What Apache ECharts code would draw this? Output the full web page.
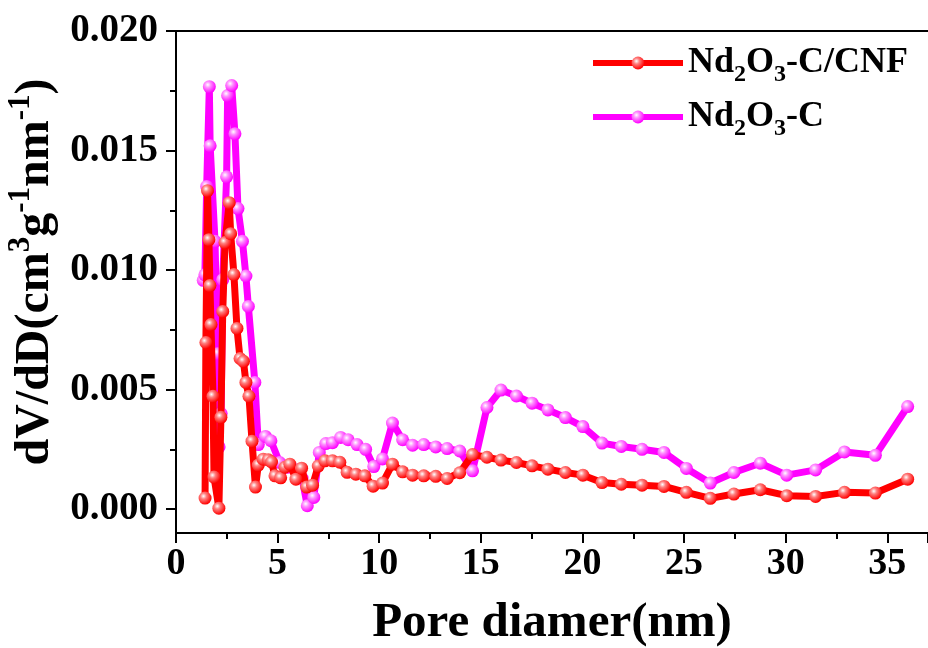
<!DOCTYPE html>
<html>
<head>
<meta charset="utf-8">
<script src="https://cdn.jsdelivr.net/npm/echarts@6/dist/echarts.min.js"></script>
<style>
  html, body { margin: 0; padding: 0; background: #fff; overflow: hidden; }
  #chart { width: 928px; height: 648px; }
</style>
</head>
<body>
<div id="chart"></div>
<script>
// Pore size distribution (BJH dV/dD) for the two samples
const nameCNF = 'Nd2O3-C/CNF';
const nameC = 'Nd2O3-C';

const xCNF = [1.43, 1.47, 1.55, 1.62, 1.67, 1.72, 1.82, 1.87, 2.11, 2.21, 2.30, 2.41, 2.62, 2.69, 2.85, 3.00,
  3.15, 3.32, 3.44, 3.59, 3.74, 3.91, 4.05, 4.29, 4.54, 4.70, 4.87, 5.15, 5.36, 5.60, 5.90, 6.18, 6.43, 6.72,
  7.00, 7.33, 7.70, 8.06, 8.42, 8.85, 9.29, 9.70, 10.16, 10.65, 11.15, 11.64, 12.19, 12.78, 13.34, 13.96,
  14.59, 15.30, 15.99, 16.75, 17.52, 18.30, 19.16, 20.02, 20.96, 21.91, 22.93, 24.01, 25.11, 26.29, 27.45,
  28.75, 30.05, 31.47, 32.89, 34.41, 36.00];
const yCNF = [0.00046, 0.00697, 0.01332, 0.01127, 0.00935, 0.00772, 0.00472, 0.00134, 0.00004, 0.00384, 0.00827,
  0.01115, 0.01282, 0.01152, 0.00981, 0.00756, 0.00630, 0.00618, 0.00530, 0.00472, 0.00284, 0.00092, 0.00184,
  0.00209, 0.00206, 0.00197, 0.00139, 0.00131, 0.00175, 0.00188, 0.00125, 0.00171, 0.00092, 0.00100, 0.00180,
  0.00202, 0.00202, 0.00196, 0.00154, 0.00146, 0.00139, 0.00096, 0.00109, 0.00188, 0.00156, 0.00142, 0.00139,
  0.00137, 0.00128, 0.00152, 0.00228, 0.00217, 0.00205, 0.00195, 0.00181, 0.00167, 0.00153, 0.00142, 0.00111,
  0.00104, 0.00100, 0.00095, 0.00070, 0.00045, 0.00063, 0.00081, 0.00056, 0.00053, 0.00070, 0.00067, 0.00125];

const xC = [1.34, 1.42, 1.51, 1.64, 1.68, 1.92, 2.04, 2.12, 2.22, 2.30, 2.49, 2.54, 2.74, 2.90, 3.05, 3.27, 3.44,
  3.56, 3.88, 4.05, 4.40, 4.67, 5.10, 5.50, 5.90, 6.20, 6.46, 6.78, 7.05, 7.37, 7.70, 8.10, 8.47, 8.91, 9.33,
  9.73, 10.16, 10.65, 11.15, 11.64, 12.19, 12.78, 13.34, 13.96, 14.59, 15.30, 15.99, 16.75, 17.52, 18.30,
  19.16, 20.02, 20.96, 21.91, 22.93, 24.01, 25.11, 26.29, 27.45, 28.75, 30.05, 31.47, 32.89, 34.41, 36.00];
const yC = [0.00957, 0.00980, 0.01350, 0.01767, 0.01520, 0.01120, 0.00650, 0.00260, 0.00400, 0.00960, 0.01390,
  0.01730, 0.01772, 0.01570, 0.01257, 0.01120, 0.00975, 0.00848, 0.00530, 0.00270, 0.00304, 0.00286, 0.00195,
  0.00175, 0.00165, 0.00130, 0.00014, 0.00049, 0.00237, 0.00274, 0.00278, 0.00300, 0.00290, 0.00270, 0.00250,
  0.00178, 0.00210, 0.00360, 0.00290, 0.00267, 0.00270, 0.00260, 0.00253, 0.00243, 0.00160, 0.00425, 0.00498,
  0.00473, 0.00443, 0.00415, 0.00383, 0.00345, 0.00276, 0.00262, 0.00250, 0.00237, 0.00170, 0.00109, 0.00153,
  0.00192, 0.00142, 0.00164, 0.00239, 0.00225, 0.00429];

const yMajor = [0, 0.005, 0.010, 0.015, 0.020];
const yMinor = [0.0025, 0.0075, 0.0125, 0.0175];

const FONT = "'Liberation Serif', 'Times New Roman', serif";

function ball(main, light) {
  return {
    type: 'radial', x: 0.38, y: 0.35, r: 0.65,
    colorStops: [
      { offset: 0, color: '#ffffff' },
      { offset: 0.35, color: light },
      { offset: 1, color: main }
    ]
  };
}

const pairs = (xs, ys) => xs.map((x, i) => [x, ys[i]]);

const legendRich = {
  b: { fontSize: 36, fontWeight: 'bold', fontFamily: FONT, color: '#000', lineHeight: 36, verticalAlign: 'top' },
  s: { fontSize: 24, fontWeight: 'bold', fontFamily: FONT, color: '#000', lineHeight: 24, verticalAlign: 'top', padding: [18, 0, 0, 0] }
};

const chart = echarts.init(document.getElementById('chart'), null, { renderer: 'canvas' });

chart.setOption({
  backgroundColor: '#ffffff',
  animation: false,
  grid: { left: 176, right: 0, top: 31, bottom: 115, containLabel: false, outerBoundsMode: 'none' },
  legend: {
    orient: 'vertical',
    left: 585,
    top: 40,
    itemWidth: 90,
    itemHeight: 16,
    itemGap: 12,
    data: [nameCNF, nameC],
    lineStyle: { width: 6 },
    formatter: function (n) {
      if (n === nameCNF) return '{b|Nd}{s|2}{b|O}{s|3}{b|-C/CNF}';
      return '{b|Nd}{s|2}{b|O}{s|3}{b|-C}';
    },
    textStyle: { rich: legendRich, fontFamily: FONT }
  },
  xAxis: [
    {
      type: 'value',
      min: 0, max: 37, interval: 5,
      name: 'Pore diamer(nm)',
      nameLocation: 'middle',
      nameGap: 66,
      nameTextStyle: { fontFamily: FONT, fontWeight: 'bold', fontSize: 49, color: '#000' },
      axisLine: { show: true, onZero: false, lineStyle: { color: '#000', width: 2 } },
      axisTick: { show: true, inside: false, length: 10, lineStyle: { color: '#000', width: 2 } },
      minorTick: { show: true, splitNumber: 2, length: 6, lineStyle: { color: '#000', width: 2 } },
      axisLabel: { fontFamily: FONT, fontWeight: 'bold', fontSize: 38, color: '#000', margin: 12, showMaxLabel: false },
      splitLine: { show: false },
      minorSplitLine: { show: false }
    },
    {
      type: 'value', position: 'top', min: 0, max: 37,
      axisLine: { show: true, onZero: false, lineStyle: { color: '#000', width: 2 } },
      axisTick: { show: false }, axisLabel: { show: false }, splitLine: { show: false }
    }
  ],
  yAxis: [
    {
      type: 'value',
      min: -0.001, max: 0.020,
      name: '{m|dV/dD(cm}{p|3}{m|g}{p|-1}{m|nm}{p|-1}{m|)}',
      nameLocation: 'middle',
      nameRotate: 90,
      nameGap: 106,
      nameTextStyle: {
        fontFamily: FONT, fontWeight: 'bold', color: '#000',
        padding: [0, 0, 0, 20],
        rich: {
          m: { fontFamily: FONT, fontWeight: 'bold', fontSize: 48, color: '#000', lineHeight: 48, verticalAlign: 'top', padding: [10, 0, 0, 0] },
          p: { fontFamily: FONT, fontWeight: 'bold', fontSize: 31, color: '#000', lineHeight: 31, verticalAlign: 'top', padding: [4, 0, 0, 0] }
        }
      },
      axisLine: { show: true, onZero: false, lineStyle: { color: '#000', width: 2 } },
      axisTick: { show: true, inside: false, length: 10, customValues: yMajor, lineStyle: { color: '#000', width: 2 } },
      axisLabel: {
        customValues: yMajor,
        fontFamily: FONT, fontWeight: 'bold', fontSize: 39, color: '#000', margin: 18,
        formatter: v => v.toFixed(3)
      },
      splitLine: { show: false }
    },
    {
      type: 'value',
      min: -0.001, max: 0.020,
      position: 'left',
      axisLine: { show: false },
      axisTick: { show: true, inside: false, length: 6, customValues: yMinor, lineStyle: { color: '#000', width: 2 } },
      axisLabel: { show: false },
      splitLine: { show: false }
    }
  ],
  series: [
    {
      name: nameCNF,
      type: 'line',
      z: 3,
      data: pairs(xCNF, yCNF),
      symbol: 'circle',
      symbolSize: 13,
      lineStyle: { color: '#ff0000', width: 7 },
      itemStyle: { color: ball('#ff0000', '#ff8080') }
    },
    {
      name: nameC,
      type: 'line',
      z: 2,
      data: pairs(xC, yC),
      symbol: 'circle',
      symbolSize: 13,
      lineStyle: { color: '#ff00ff', width: 7 },
      itemStyle: { color: ball('#ff00ff', '#ff90ff') }
    }
  ]
});
</script>
</body>
</html>
